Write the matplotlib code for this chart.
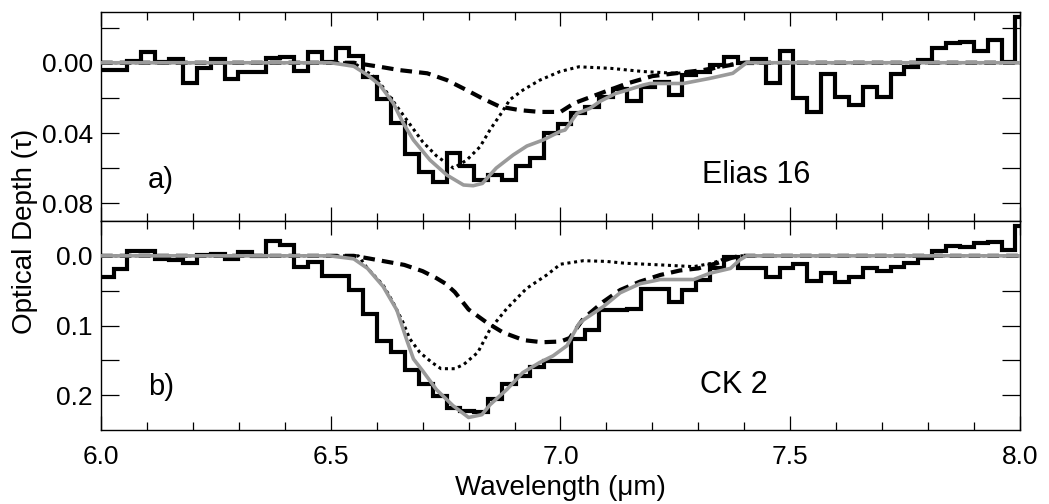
import numpy as np
import matplotlib
matplotlib.use("Agg")
import matplotlib.pyplot as plt
from matplotlib.ticker import MultipleLocator, FormatStrFormatter

plt.rcParams['font.family'] = ['Liberation Sans', 'DejaVu Sans']

# histogram bin edges (micron), 67 bins
edges = np.round(5.997 + 0.0302 * np.arange(68), 4)

# Elias 16 observed optical depth per bin
tau_e16 = [0.004, 0.004, -0.001, -0.006, -0.0005, -0.002, 0.0118, 0.0032, -0.002, 0.009,
           0.005, 0.005, -0.0025, -0.003, 0.0046, -0.0063, -0.0006, -0.0085, -0.0038, 0.0083,
           0.0207, 0.0345, 0.052, 0.062, 0.068, 0.0516, 0.059, 0.067, 0.064, 0.0668,
           0.059, 0.0545, 0.040, 0.0349, 0.0288, 0.0254, 0.0194, 0.0152, 0.022, 0.0137,
           0.011, 0.0184, 0.007, 0.0055, 0.001, -0.0034, 0.0004, -0.0022, 0.0113, -0.0068,
           0.0203, 0.0279, 0.0065, 0.0194, 0.0241, 0.0137, 0.0194, 0.0065, 0.0023, -0.0015,
           -0.0082, -0.011, -0.012, -0.0068, -0.0129, -0.0006, -0.0262]

# CK 2 observed optical depth per bin
tau_ck2 = [0.0305, 0.0193, -0.0068, -0.0068, 0.005, 0.006, 0.0097, -0.001, -0.003, 0.005,
           -0.006, 0.0, -0.0217, -0.016, 0.0155, 0.0082, 0.0285, 0.0285, 0.049, 0.083,
           0.1217, 0.1387, 0.164, 0.1845, 0.2015, 0.218, 0.222, 0.224, 0.205, 0.1845,
           0.1725, 0.160, 0.151, 0.151, 0.119, 0.107, 0.078, 0.078, 0.077, 0.047,
           0.047, 0.066, 0.049, 0.035, 0.018, 0.001, 0.018, 0.018, 0.030, 0.018,
           0.012, 0.036, 0.025, 0.037, 0.030, 0.018, 0.022, 0.0155, 0.0106, 0.0034,
           -0.0063, -0.0135, -0.012, -0.018, -0.020, -0.0087, -0.0425]

# Elias 16 model curves
e16_fit_x = [6.0, 6.50, 6.55, 6.58, 6.607, 6.636, 6.658, 6.68, 6.716, 6.753, 6.789, 6.81,
             6.83, 6.86, 6.897, 6.927, 6.962, 7.0, 7.01, 7.036, 7.064, 7.086, 7.12, 7.145,
             7.18, 7.195, 7.267, 7.325, 7.375, 7.405, 8.0]
e16_fit_y = [0, 0, 0.002, 0.007, 0.0127, 0.023, 0.0345, 0.044, 0.0554, 0.064, 0.0696, 0.070,
             0.0687, 0.060, 0.0525, 0.0474, 0.044, 0.039, 0.0383, 0.0288, 0.026, 0.022, 0.0175,
             0.0156, 0.0127, 0.0118, 0.0118, 0.0089, 0.006, 0.0, 0.0]
e16_broad_x = [6.0, 6.55, 6.607, 6.65, 6.71, 6.753, 6.796, 6.83, 6.868, 6.912, 6.955, 7.0,
               7.03, 7.086, 7.145, 7.2, 7.26, 7.31, 7.37, 7.40, 8.0]
e16_broad_y = [0, 0, 0.0023, 0.0042, 0.006, 0.0099, 0.0156, 0.0203, 0.025, 0.027, 0.028, 0.028,
               0.023, 0.0175, 0.0118, 0.0076, 0.0057, 0.0042, 0.0013, 0, 0]
e16_narrow_x = [6.0, 6.55, 6.60, 6.65, 6.70, 6.73, 6.767, 6.796, 6.825, 6.847, 6.868, 6.89,
                6.918, 6.955, 6.999, 7.04, 7.11, 7.18, 7.25, 7.31, 7.36, 7.39, 8.0]
e16_narrow_y = [0, 0, 0.009, 0.027, 0.045, 0.053, 0.060, 0.0554, 0.0478, 0.038, 0.030, 0.021,
                0.0156, 0.0099, 0.005, 0.0023, 0.0032, 0.005, 0.006, 0.005, 0.0013, 0, 0]

# CK 2 model curves
ck2_fit_x = [6.0, 6.498, 6.55, 6.58, 6.614, 6.644, 6.665, 6.68, 6.70, 6.73, 6.766, 6.80,
             6.829, 6.847, 6.883, 6.918, 6.955, 6.984, 7.014, 7.04, 7.05, 7.093, 7.13, 7.173,
             7.217, 7.29, 7.325, 7.37, 7.39, 7.405, 8.0]
ck2_fit_y = [0, 0, 0.0043, 0.018, 0.044, 0.078, 0.12, 0.148, 0.165, 0.192, 0.215, 0.232,
             0.228, 0.2135, 0.192, 0.1676, 0.153, 0.1435, 0.129, 0.0976, 0.092, 0.073, 0.053, 0.040,
             0.034, 0.034, 0.025, 0.018, 0.006, 0, 0]
ck2_broad_x = [6.0, 6.55, 6.58, 6.66, 6.70, 6.73, 6.75, 6.77, 6.80, 6.84, 6.875, 6.92, 6.96,
               7.0, 7.02, 7.05, 7.093, 7.13, 7.173, 7.217, 7.26, 7.30, 7.34, 7.37, 7.39, 8.0]
ck2_broad_y = [0, 0, 0.0034, 0.013, 0.022, 0.032, 0.040, 0.052, 0.077, 0.096, 0.11, 0.121, 0.124,
               0.123, 0.118, 0.090, 0.066, 0.049, 0.037, 0.0275, 0.021, 0.018, 0.0106, 0.0034, 0, 0]
ck2_narrow_x = [6.0, 6.50, 6.56, 6.58, 6.614, 6.635, 6.657, 6.672, 6.694, 6.72, 6.74, 6.77,
                6.79, 6.82, 6.847, 6.883, 6.926, 6.97, 7.0, 7.05, 7.10, 7.14, 7.217, 7.29,
                7.33, 7.36, 7.39, 8.0]
ck2_narrow_y = [0, 0, 0.0, 0.018, 0.042, 0.066, 0.095, 0.119, 0.1387, 0.153, 0.162, 0.162,
                0.1556, 0.1387, 0.105, 0.0758, 0.0469, 0.0275, 0.012, 0.007, 0.008, 0.0106, 0.013,
                0.0155, 0.0106, 0.0034, 0, 0]

grey = '#9a9a9a'

fig = plt.figure(figsize=(10.49, 5.04), dpi=100)
ax1 = fig.add_axes([0.0963, 0.5615, 0.876, 0.414])
ax2 = fig.add_axes([0.0963, 0.1468, 0.876, 0.4147])

panels = [
    (ax1, tau_e16, e16_fit_x, e16_fit_y, e16_broad_x, e16_broad_y, e16_narrow_x, e16_narrow_y),
    (ax2, tau_ck2, ck2_fit_x, ck2_fit_y, ck2_broad_x, ck2_broad_y, ck2_narrow_x, ck2_narrow_y),
]

for ax, obs, fx, fy, bx, by, nx, ny in panels:
    ax.stairs(obs, edges, baseline=None, color='black', lw=3.0, zorder=2)
    ax.plot(bx, by, color='black', lw=3.0, ls=(0, (2.8, 1.7)), zorder=3)
    ax.plot(nx, ny, color='black', lw=2.2, ls=(0, (1, 1.2)), zorder=3)
    ax.plot(fx, fy, color=grey, lw=2.6, zorder=4)
    ax.set_xlim(6.0, 8.0)
    ax.xaxis.set_major_locator(MultipleLocator(0.5))
    ax.xaxis.set_minor_locator(MultipleLocator(0.1))
    ax.tick_params(which='both', direction='in', top=True, right=True, width=0.9,
                   labelsize=19)
    ax.tick_params(axis='x', which='major', length=10, pad=11)
    ax.tick_params(axis='x', which='minor', length=5.5)
    ax.tick_params(axis='y', which='both', length=13, pad=6)
    for s in ax.spines.values():
        s.set_linewidth(1.0)

ax1.set_ylim(0.0901, -0.0287)
ax1.set_yticks([0.00, 0.04, 0.08])
ax1.set_yticks([-0.02, 0.02, 0.06], minor=True)
ax1.yaxis.set_major_formatter(FormatStrFormatter('%.2f'))
ax1.tick_params(labelbottom=False)
ax1.text(6.102, 0.067, 'a)', fontsize=21, va='center', ha='left')
ax1.text(7.307, 0.064, 'Elias 16', fontsize=22, va='center', ha='left')

ax2.set_ylim(0.25, -0.05)
ax2.set_yticks([0.0, 0.1, 0.2])
ax2.set_yticks([0.05, 0.15], minor=True)
ax2.yaxis.set_major_formatter(FormatStrFormatter('%.1f'))
ax2.text(6.102, 0.188, 'b)', fontsize=21, va='center', ha='left')
ax2.text(7.304, 0.185, 'CK 2', fontsize=22, va='center', ha='left')

fig.text(0.5343, 0.032, 'Wavelength (\u03bcm)', fontsize=20, ha='center', va='center')
fig.text(0.024, 0.54, 'Optical Depth (\u03c4)', fontsize=20, ha='center', va='center',
         rotation=90)

fig.savefig('out.png', dpi=100)
